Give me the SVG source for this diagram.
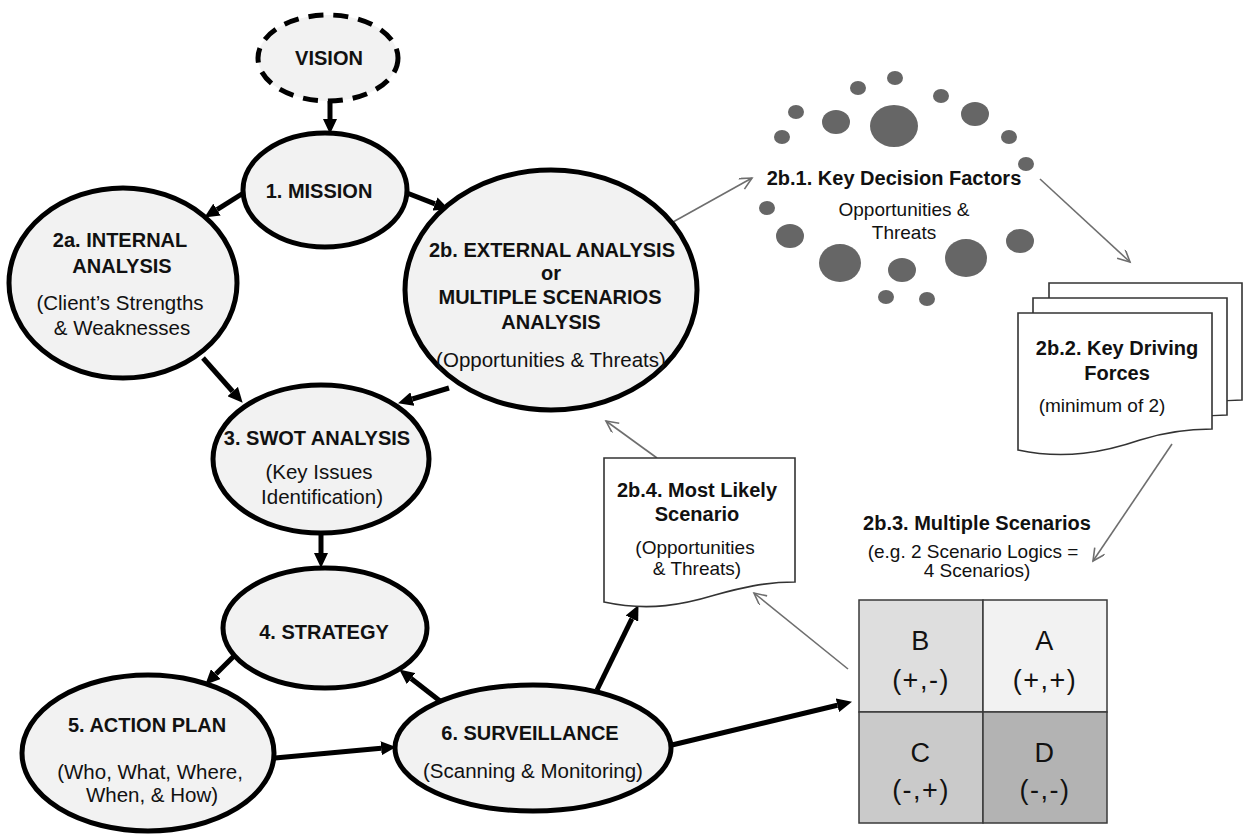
<svg xmlns="http://www.w3.org/2000/svg" width="1246" height="838" viewBox="0 0 1246 838">
<style>
.node{fill:#f2f2f2;stroke:#000;stroke-width:5}
.b{font-family:"Liberation Sans",Arial,sans-serif;font-weight:bold;font-size:20px;fill:#111;text-anchor:middle}
.r{font-family:"Liberation Sans",Arial,sans-serif;font-size:20.5px;fill:#111;text-anchor:middle}
.s{font-family:"Liberation Sans",Arial,sans-serif;font-size:19px;fill:#111;text-anchor:middle}
.g{font-family:"Liberation Sans",Arial,sans-serif;font-size:27px;fill:#111;text-anchor:middle;letter-spacing:1.5px}
.thick{stroke:#000;stroke-width:5;fill:none;marker-end:url(#ah)}
.thin{stroke:#6e6e6e;stroke-width:1.6;fill:none;marker-end:url(#oh)}
.doc{fill:#fff;stroke:#333;stroke-width:1.6}
.dot{fill:#666}
.cell{stroke:#3a3a3a;stroke-width:1.5}
</style>
<defs>
<marker id="ah" markerUnits="userSpaceOnUse" markerWidth="16" markerHeight="14" refX="0" refY="7" orient="auto">
<path d="M0,0 L15,7 L0,14 z" fill="#000"/>
</marker>
<marker id="oh" markerUnits="userSpaceOnUse" markerWidth="16" markerHeight="14" refX="13" refY="6" orient="auto">
<path d="M1,0 L13,6 L1,12" fill="none" stroke="#6e6e6e" stroke-width="1.6"/>
</marker>
</defs>
<rect width="1246" height="838" fill="#fff"/>

<g id="connectors">
<line class="thick" x1="330" y1="101" x2="330" y2="119"/>
<line class="thick" x1="245" y1="192" x2="217" y2="209.6"/>
<line class="thick" x1="407" y1="193" x2="435" y2="203.9"/>
<line class="thick" x1="203" y1="358" x2="232.7" y2="391.5"/>
<line class="thick" x1="449" y1="388" x2="412.4" y2="399"/>
<line class="thick" x1="321" y1="533" x2="321" y2="553"/>
<line class="thick" x1="234" y1="656" x2="215.9" y2="674.1"/>
<line class="thick" x1="440" y1="701" x2="411.1" y2="678.6"/>
<line class="thick" x1="275" y1="758" x2="381.1" y2="748.3"/>
<line class="thick" x1="597" y1="690" x2="631.9" y2="618.6"/>
<line class="thick" x1="672" y1="745" x2="837.4" y2="705.3"/>
<line class="thin" x1="673" y1="222" x2="752" y2="178"/>
<line class="thin" x1="1040" y1="179" x2="1130" y2="262"/>
<line class="thin" x1="1172" y1="444" x2="1093" y2="561"/>
<line class="thin" x1="848" y1="669" x2="754" y2="593"/>
<line class="thin" x1="657" y1="458" x2="606" y2="421"/>
</g>

<g id="vision">
<ellipse cx="328" cy="58" rx="70" ry="43" fill="#f2f2f2" stroke="#000" stroke-width="5" stroke-dasharray="15,10"/>
<text class="b" x="329" y="65">VISION</text>
</g>

<g id="mission">
<ellipse class="node" cx="325" cy="190" rx="82" ry="57"/>
<text class="b" x="319" y="198">1. MISSION</text>
</g>

<g id="internal">
<ellipse class="node" cx="123" cy="283" rx="114" ry="95"/>
<text class="b" x="120" y="247">2a. INTERNAL</text>
<text class="b" x="122" y="273">ANALYSIS</text>
<text class="r" x="120" y="310">(Client’s Strengths</text>
<text class="r" x="122" y="335">&amp; Weaknesses</text>
</g>

<g id="external">
<ellipse class="node" cx="551" cy="290" rx="146" ry="120"/>
<text class="b" x="552" y="257">2b. EXTERNAL ANALYSIS</text>
<text class="b" x="551" y="280">or</text>
<text class="b" x="550" y="304">MULTIPLE SCENARIOS</text>
<text class="b" x="551" y="329">ANALYSIS</text>
<text class="r" x="551" y="367">(Opportunities &amp; Threats)</text>
</g>

<g id="swot">
<ellipse class="node" cx="321" cy="459" rx="108" ry="74"/>
<text class="b" x="317" y="445">3. SWOT ANALYSIS</text>
<text class="r" x="319" y="479">(Key Issues</text>
<text class="r" x="322" y="504">Identification)</text>
</g>

<g id="strategy">
<ellipse class="node" cx="325" cy="628" rx="102" ry="60"/>
<text class="b" x="324" y="639">4. STRATEGY</text>
</g>

<g id="actionplan">
<ellipse class="node" cx="148" cy="753" rx="126" ry="78"/>
<text class="b" x="147" y="732">5. ACTION PLAN</text>
<text class="r" x="150" y="779">(Who, What, Where,</text>
<text class="r" x="152" y="802">When, &amp; How)</text>
</g>

<g id="surveillance">
<ellipse class="node" cx="533" cy="748" rx="138" ry="63"/>
<text class="b" x="530" y="740">6. SURVEILLANCE</text>
<text class="r" x="533" y="778">(Scanning &amp; Monitoring)</text>
</g>

<g id="keydecision">
<ellipse class="dot" cx="782" cy="137" rx="8" ry="7"/>
<ellipse class="dot" cx="796" cy="112" rx="8" ry="7"/>
<ellipse class="dot" cx="836" cy="122" rx="14" ry="12"/>
<ellipse class="dot" cx="858" cy="88" rx="8" ry="7"/>
<ellipse class="dot" cx="895" cy="78" rx="8" ry="7"/>
<ellipse class="dot" cx="894" cy="126" rx="24" ry="21"/>
<ellipse class="dot" cx="941" cy="96" rx="8" ry="7"/>
<ellipse class="dot" cx="975" cy="114" rx="14" ry="12"/>
<ellipse class="dot" cx="1009" cy="137" rx="8" ry="7"/>
<ellipse class="dot" cx="1026" cy="164" rx="8" ry="7"/>
<ellipse class="dot" cx="767" cy="208" rx="8" ry="7"/>
<ellipse class="dot" cx="790" cy="236" rx="14" ry="12"/>
<ellipse class="dot" cx="840" cy="263" rx="21" ry="19"/>
<ellipse class="dot" cx="902" cy="270" rx="14" ry="12"/>
<ellipse class="dot" cx="966" cy="258" rx="21" ry="19"/>
<ellipse class="dot" cx="1020" cy="241" rx="14" ry="12"/>
<ellipse class="dot" cx="886" cy="297" rx="8" ry="7"/>
<ellipse class="dot" cx="927" cy="299" rx="8" ry="7"/>
<text class="b" x="894" y="185">2b.1. Key Decision Factors</text>
<text class="s" x="904" y="216">Opportunities &amp;</text>
<text class="s" x="904" y="239">Threats</text>
</g>

<g id="drivingforces">
<path class="doc" d="M1049,283 H1242 V400 C1220,400 1200,404 1180,410 L1049,410 Z"/>
<path class="doc" d="M1033,298 H1227 V415 C1205,415 1185,419 1165,425 L1033,425 Z"/>
<path class="doc" d="M1018,313 H1212 V429 C1185,429 1165,432 1140,440 C1105,452 1065,460 1018,450 Z"/>
<text class="b" x="1117" y="355">2b.2. Key Driving</text>
<text class="b" x="1117" y="380">Forces</text>
<text class="s" x="1102" y="412">(minimum of 2)</text>
</g>

<g id="mostlikely">
<path class="doc" d="M604,458 H795 V582 C765,582 740,588 715,595 C685,604 650,612 604,602 Z"/>
<text class="b" x="697" y="497">2b.4. Most Likely</text>
<text class="b" x="697" y="521">Scenario</text>
<text class="s" x="695" y="554">(Opportunities</text>
<text class="s" x="697" y="575">&amp; Threats)</text>
</g>

<g id="multiplescenarios">
<text class="b" x="977" y="530">2b.3. Multiple Scenarios</text>
<text class="s" x="973" y="558">(e.g. 2 Scenario Logics =</text>
<text class="s" x="977" y="577">4 Scenarios)</text>
<rect class="cell" x="859" y="600" width="124" height="112" fill="#dedede"/>
<rect class="cell" x="983" y="600" width="124" height="112" fill="#f2f2f2"/>
<rect class="cell" x="859" y="712" width="124" height="111" fill="#cacaca"/>
<rect class="cell" x="983" y="712" width="124" height="111" fill="#b3b3b3"/>
<text class="g" x="921" y="650">B</text>
<text class="g" x="921" y="689">(+,-)</text>
<text class="g" x="1045" y="650">A</text>
<text class="g" x="1045" y="689">(+,+)</text>
<text class="g" x="921" y="762">C</text>
<text class="g" x="921" y="799">(-,+)</text>
<text class="g" x="1045" y="762">D</text>
<text class="g" x="1045" y="799">(-,-)</text>
</g>
</svg>
